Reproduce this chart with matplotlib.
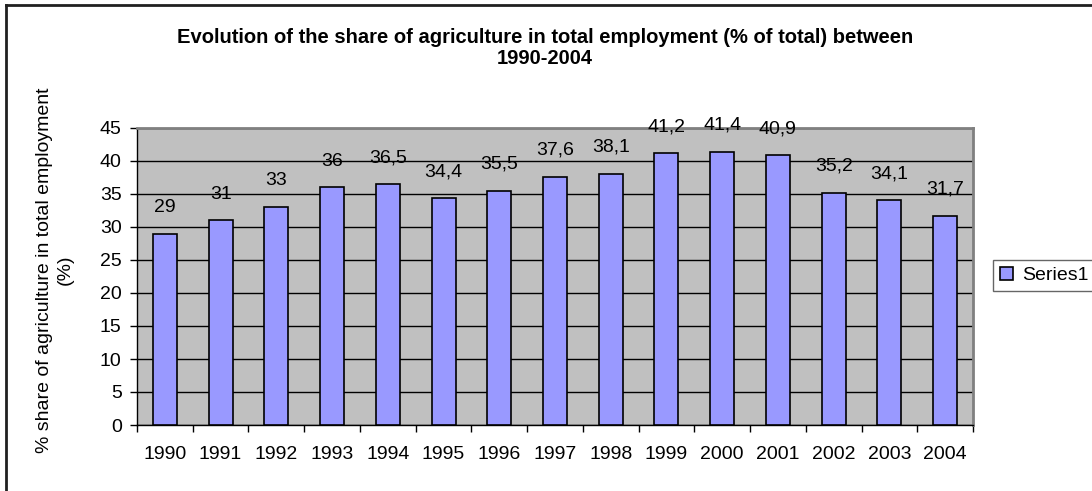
import numpy as np
import matplotlib.pyplot as plt
from matplotlib.lines import Line2D

plt.rcParams['font.family'] = ['Liberation Sans', 'DejaVu Sans']

# data
years = ['1990', '1991', '1992', '1993', '1994', '1995', '1996', '1997',
         '1998', '1999', '2000', '2001', '2002', '2003', '2004']
share = [29, 31, 33, 36, 36.5, 34.4, 35.5, 37.6, 38.1, 41.2, 41.4, 40.9, 35.2, 34.1, 31.7]
yticks = [0, 5, 10, 15, 20, 25, 30, 35, 40, 45]

W, H = 1092, 491
fig = plt.figure(figsize=(W / 100, H / 100), dpi=100)
# plot area in pixels: x 137..973, y 128..425
ax = fig.add_axes([137 / W, 1 - 425 / H, (973 - 137) / W, (425 - 128) / H])
ax.set_facecolor('#C0C0C0')

x = np.arange(len(years))
bars = ax.bar(x, share, width=0.43, color='#9999FF', edgecolor='black',
              linewidth=1.2, zorder=3, label='Series1')

# data labels with comma decimals
for xi, v in zip(x, share):
    txt = ('%g' % v).replace('.', ',')
    ax.annotate(txt, (xi, v), xytext=(0, 19), textcoords='offset points',
                ha='center', va='center', fontsize=14, zorder=4)

ax.set_xlim(-0.5, len(years) - 0.5)
ax.set_ylim(0, 45)
ax.set_yticks(yticks)
ax.yaxis.grid(True, color='black', linewidth=1.0, zorder=1)
ax.set_axisbelow(True)

ax.set_xticks(x)
ax.set_xticklabels(years, fontsize=14)
ax.set_xticks(np.arange(-0.5, len(years)), minor=True)
ax.tick_params(axis='x', which='major', length=0, pad=15)
ax.tick_params(axis='x', which='minor', length=5, width=1, direction='out')
ax.tick_params(axis='y', length=5, width=1, direction='out', labelsize=14, pad=6)

for s in ['top', 'right']:
    ax.spines[s].set_color('#808080')
    ax.spines[s].set_linewidth(2)
for s in ['left', 'bottom']:
    ax.spines[s].set_color('black')
    ax.spines[s].set_linewidth(1.0)

# axis title
fig.text(55 / W, 1 - 270 / H, '% share of agriculture in total employment\n(%)',
         rotation=90, ha='center', va='center', fontsize=14, linespacing=1.3)

fig.text(545 / W, 1 - 48 / H,
         'Evolution of the share of agriculture in total employment (% of total) between\n1990-2004',
         ha='center', va='center', fontsize=14.5, fontweight='bold', linespacing=1.15)

leg = fig.legend(handles=[bars], labels=['Series1'], loc='center left',
                 bbox_to_anchor=(993 / W, 1 - 275.5 / H), fontsize=14, frameon=True,
                 fancybox=False, edgecolor='#404040', handlelength=0.7,
                 handleheight=0.7, handletextpad=0.45, borderpad=0.35,
                 borderaxespad=0)
leg.get_frame().set_linewidth(1.0)

# outer chart border (only top and left are inside the picture)
fig.add_artist(Line2D([6 / W, 1.0], [1 - 5 / H, 1 - 5 / H], color='#202020',
                      linewidth=2, transform=fig.transFigure))
fig.add_artist(Line2D([6 / W, 6 / W], [0.0, 1 - 5 / H], color='#202020',
                      linewidth=2, transform=fig.transFigure))

fig.savefig('out.png', dpi=100)
